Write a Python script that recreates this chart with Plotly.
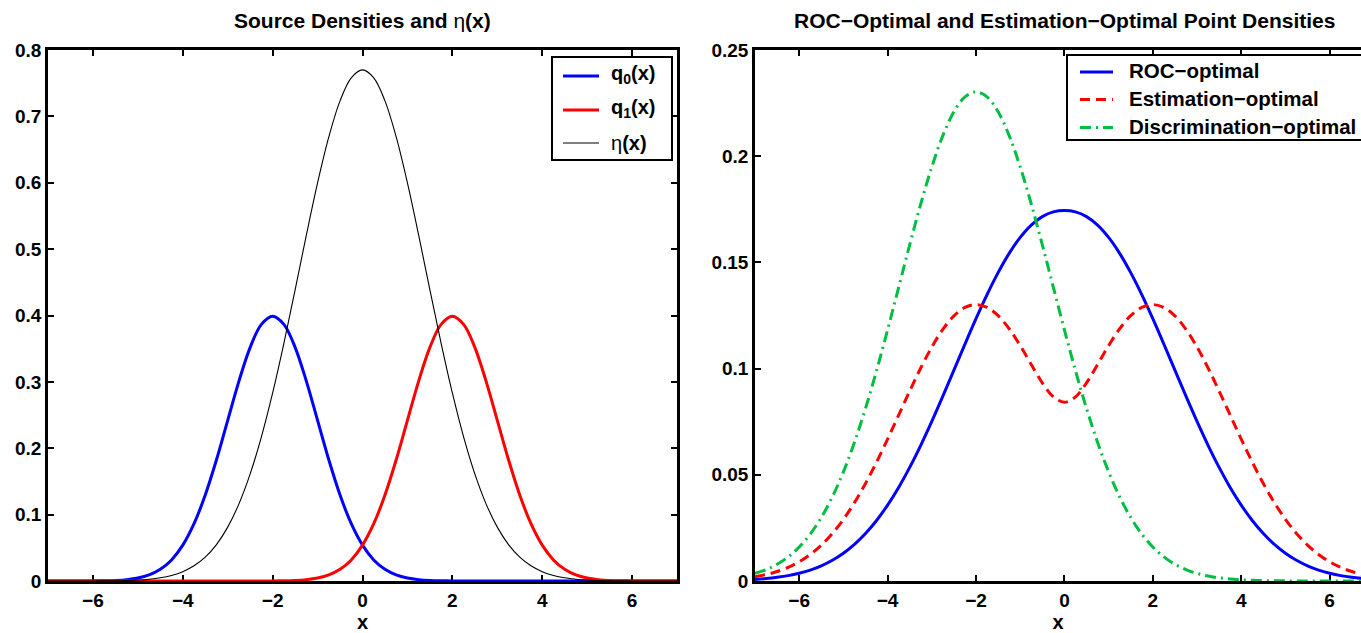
import plotly.graph_objects as go

# ---------------- data ----------------
x_vals = [-7.0, -6.75, -6.5, -6.25, -6.0, -5.75, -5.5, -5.25, -5.0, -4.75, -4.5, -4.25,
          -4.0, -3.75, -3.5, -3.25, -3.0, -2.75, -2.5, -2.25, -2.0, -1.75, -1.5, -1.25,
          -1.0, -0.75, -0.5, -0.25, 0.0, 0.25, 0.5, 0.75, 1.0, 1.25, 1.5, 1.75, 2.0, 2.25,
          2.5, 2.75, 3.0, 3.25, 3.5, 3.75, 4.0, 4.25, 4.5, 4.75, 5.0, 5.25, 5.5, 5.75, 6.0,
          6.25, 6.5, 6.75, 7.0]

q0 = [0.0000015, 0.000005, 0.000016, 0.0000477, 0.000134, 0.000353, 0.000873, 0.00203,
      0.00443, 0.00909, 0.01753, 0.03174, 0.05399, 0.08628, 0.12952, 0.18265, 0.24197,
      0.30114, 0.35207, 0.38667, 0.39894, 0.38667, 0.35207, 0.30114, 0.24197, 0.18265,
      0.12952, 0.08628, 0.05399, 0.03174, 0.01753, 0.00909, 0.00443, 0.00203, 0.000873,
      0.000353, 0.000134, 0.0000477, 0.000016, 0.000005, 0.0000015,
      0.0, 0.0, 0.0, 0.0, 0.0, 0.0, 0.0, 0.0, 0.0, 0.0, 0.0, 0.0, 0.0, 0.0, 0.0, 0.0]

q1 = [0.0, 0.0, 0.0, 0.0, 0.0, 0.0, 0.0, 0.0, 0.0, 0.0, 0.0, 0.0, 0.0, 0.0, 0.0, 0.0,
      0.0000015, 0.000005, 0.000016, 0.0000477, 0.000134, 0.000353, 0.000873, 0.00203,
      0.00443, 0.00909, 0.01753, 0.03174, 0.05399, 0.08628, 0.12952, 0.18265, 0.24197,
      0.30114, 0.35207, 0.38667, 0.39894, 0.38667, 0.35207, 0.30114, 0.24197, 0.18265,
      0.12952, 0.08628, 0.05399, 0.03174, 0.01753, 0.00909, 0.00443, 0.00203, 0.000873,
      0.000353, 0.000134, 0.0000477, 0.000016, 0.000005, 0.0000015]

eta = [0.0000037, 0.0000087, 0.00002, 0.000044, 0.000095, 0.00020, 0.00040, 0.00078,
       0.00149, 0.00273, 0.00487, 0.00842, 0.01410, 0.02288, 0.03601, 0.05492, 0.08116,
       0.11624, 0.16140, 0.21719, 0.28327, 0.35808, 0.43873, 0.52101, 0.59968, 0.66899,
       0.72335, 0.75807, 0.77000, 0.75807, 0.72335, 0.66899, 0.59968, 0.52101, 0.43873,
       0.35808, 0.28327, 0.21719, 0.16140, 0.11624, 0.08116, 0.05492, 0.03601, 0.02288,
       0.01410, 0.00842, 0.00487, 0.00273, 0.00149, 0.00078, 0.00040, 0.00020, 0.000095,
       0.000044, 0.00002, 0.0000087, 0.0000037]

roc_opt = [0.00076, 0.00116, 0.00173, 0.00253, 0.00367, 0.00515, 0.00714, 0.00976,
           0.01308, 0.01724, 0.02236, 0.02850, 0.03574, 0.04406, 0.05349, 0.06390,
           0.07514, 0.08702, 0.09925, 0.11153, 0.12351, 0.13484, 0.14519, 0.15427,
           0.16178, 0.16758, 0.17157, 0.17378, 0.17440, 0.17378, 0.17157, 0.16758,
           0.16178, 0.15427, 0.14519, 0.13484, 0.12351, 0.11153, 0.09925, 0.08702,
           0.07514, 0.06390, 0.05349, 0.04406, 0.03574, 0.02850, 0.02236, 0.01724,
           0.01308, 0.00976, 0.00714, 0.00515, 0.00367, 0.00253, 0.00173, 0.00116, 0.00076]

est_opt = [0.00202, 0.00302, 0.00445, 0.00641, 0.00905, 0.01250, 0.01689, 0.02238,
           0.02903, 0.03689, 0.04591, 0.05596, 0.06681, 0.07811, 0.08944, 0.10029,
           0.11015, 0.11848, 0.12481, 0.12878, 0.13014, 0.12881, 0.12491, 0.11875,
           0.11082, 0.10193, 0.09330, 0.08670, 0.08417, 0.08670, 0.09330, 0.10193,
           0.11082, 0.11875, 0.12491, 0.12881, 0.13014, 0.12878, 0.12481, 0.11848,
           0.11015, 0.10029, 0.08944, 0.07811, 0.06681, 0.05596, 0.04591, 0.03689,
           0.02903, 0.02238, 0.01689, 0.01250, 0.00905, 0.00641, 0.00445, 0.00302, 0.00202]

disc_opt = [0.00357, 0.00536, 0.00788, 0.01135, 0.01600, 0.02210, 0.02990, 0.03961,
            0.05139, 0.06530, 0.08126, 0.09905, 0.11824, 0.13824, 0.15828, 0.17750,
            0.19494, 0.20969, 0.22090, 0.22791, 0.23030, 0.22791, 0.22090, 0.20969,
            0.19494, 0.17750, 0.15828, 0.13824, 0.11824, 0.09905, 0.08126, 0.06530,
            0.05139, 0.03961, 0.02990, 0.02210, 0.01600, 0.01135, 0.00788, 0.00536,
            0.00357, 0.00233, 0.00149, 0.00093, 0.00057, 0.00034, 0.00020, 0.000116,
            0.000065, 0.000036, 0.0000195, 0.0000103, 0.0000054, 0.000003, 0.0000014,
            0.0, 0.0]

x_ticks = [-6, -4, -2, 0, 2, 4, 6]
x_ticktext = ["\u22126", "\u22124", "\u22122", "0", "2", "4", "6"]
y1_ticks = [0, 0.1, 0.2, 0.3, 0.4, 0.5, 0.6, 0.7, 0.8]
y1_ticktext = ["0", "0.1", "0.2", "0.3", "0.4", "0.5", "0.6", "0.7", "0.8"]
y2_ticks = [0, 0.05, 0.1, 0.15, 0.2, 0.25]
y2_ticktext = ["0", "0.05", "0.1", "0.15", "0.2", "0.25"]

left_names = ["<b>q<sub>0</sub>(x)</b>", "<b>q<sub>1</sub>(x)</b>", "η<b>(x)</b>"]
right_names = ["<b>ROC\u2212optimal</b>", "<b>Estimation\u2212optimal</b>",
               "<b>Discrimination\u2212optimal</b>"]

# ---------------- figure ----------------
W, H = 1361, 633
MT, MB = 50, 52
FONT = "Liberation Sans, Arial, Helvetica, sans-serif"


def px(xp):
    return xp / W


def py(yp):
    return (H - MB - yp) / (H - MT - MB)


BLUE, RED, GREEN = "#0000FF", "#FF0000", "#00BF40"
styles_left = [dict(color=BLUE, width=3), dict(color=RED, width=3), dict(color="black", width=1.1)]
styles_right = [dict(color=BLUE, width=3),
                dict(color=RED, width=3, dash="10px,6px"),
                dict(color=GREEN, width=3, dash="11px,5px,2px,5px")]

fig = go.Figure()
for yv, name, st in zip([q0, q1, eta], left_names, styles_left):
    fig.add_trace(go.Scatter(x=x_vals, y=yv, mode="lines", name=name,
                             line=dict(shape="spline", **st), xaxis="x", yaxis="y",
                             showlegend=False))
for yv, name, st in zip([roc_opt, est_opt, disc_opt], right_names, styles_right):
    fig.add_trace(go.Scatter(x=x_vals, y=yv, mode="lines", name=name,
                             line=dict(shape="spline", **st), xaxis="x2", yaxis="y2",
                             showlegend=False))

axis_common = dict(
    showline=True, linecolor="black", linewidth=2.5,
    ticks="inside", ticklen=6, tickwidth=2, tickcolor="black",
    showgrid=False, zeroline=False,
    tickfont=dict(family=FONT, size=19, color="black", weight="bold"),
)

# legend boxes drawn as shapes + text
shapes = []
annotations = []


def legend_box(x0, y0, x1, y1, rows, names, styles, lx0, lx1, tx, text_dy, fsize):
    shapes.append(dict(type="rect", xref="paper", yref="paper",
                       x0=px(x0), x1=px(x1), y0=py(y1), y1=py(y0),
                       line=dict(color="black", width=2), fillcolor="white", layer="above"))
    for ry, name, st, dy in zip(rows, names, styles, text_dy):
        shapes.append(dict(type="line", xref="paper", yref="paper",
                           x0=px(lx0), x1=px(lx1), y0=py(ry), y1=py(ry),
                           line=st, layer="above"))
        annotations.append(dict(text=name, x=px(tx), y=py(ry + dy), xref="paper", yref="paper",
                                xanchor="left", yanchor="middle", showarrow=False,
                                font=dict(family=FONT, size=fsize, color="black")))


legend_box(552, 57, 672, 160, [76, 110, 143], left_names, styles_left, 563, 599, 609,
           [-2, -2, 0], 20)
legend_box(1067, 55, 1380, 140, [72, 99.5, 127.5], right_names, styles_right, 1080, 1113, 1127,
           [-1, -1, -1], 20.5)

annotations.append(dict(text="<b>Source Densities and </b>η<b>(x)</b>", x=px((48 + 677) / 2),
                        y=py(20), xref="paper", yref="paper", xanchor="center",
                        yanchor="middle", showarrow=False,
                        font=dict(family=FONT, size=21, color="black")))
annotations.append(dict(text="<b>ROC\u2212Optimal and Estimation\u2212Optimal Point Densities</b>",
                        x=px((755 + 1374) / 2), y=py(20), xref="paper", yref="paper",
                        xanchor="center", yanchor="middle", showarrow=False,
                        font=dict(family=FONT, size=21, color="black")))

fig.update_layout(
    width=W, height=H,
    margin=dict(l=0, r=0, t=MT, b=MB),
    paper_bgcolor="white", plot_bgcolor="white",
    font=dict(family=FONT, color="black"),
    showlegend=False,
    xaxis=dict(domain=[px(48), px(677)], range=[-7, 7], tickvals=x_ticks, ticktext=x_ticktext,
               mirror="ticks", anchor="y", layer="below traces",
               title=dict(text="<b>x</b>", font=dict(family=FONT, size=20), standoff=0),
               **axis_common),
    yaxis=dict(domain=[0, 1], range=[0, 0.8], tickvals=y1_ticks, ticktext=y1_ticktext,
               mirror="ticks", anchor="x", layer="below traces", **axis_common),
    xaxis2=dict(domain=[px(755), 1.0], range=[-7, 6.71], tickvals=x_ticks, ticktext=x_ticktext,
                mirror="ticks", anchor="y2", layer="below traces",
                title=dict(text="<b>x</b>", font=dict(family=FONT, size=20), standoff=0),
                **axis_common),
    yaxis2=dict(domain=[0, 1], range=[0, 0.25], tickvals=y2_ticks, ticktext=y2_ticktext,
                mirror=False, anchor="x2", layer="below traces", **axis_common),
    shapes=shapes,
    annotations=annotations,
)

fig.write_html("out.html", config={"displayModeBar": False},
               post_script="document.body.style.margin='0px';document.body.style.overflow='hidden';")
